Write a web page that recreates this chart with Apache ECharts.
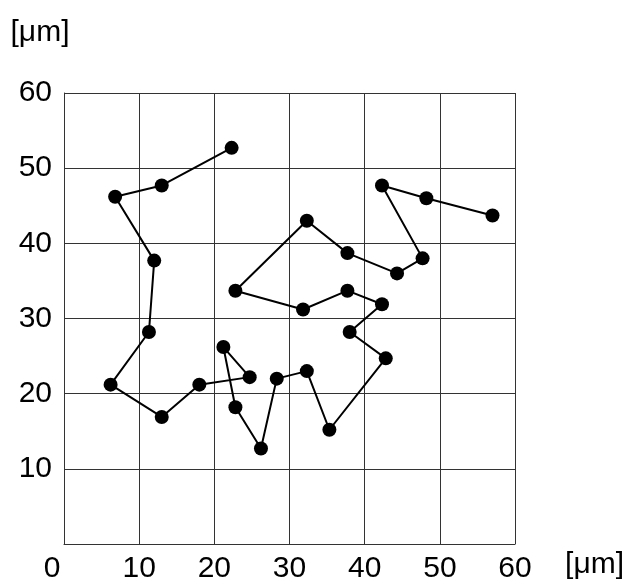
<!DOCTYPE html>
<html>
<head>
<meta charset="utf-8">
<script src="https://cdn.jsdelivr.net/npm/echarts@6/dist/echarts.min.js"></script>
<style>
  html, body { margin: 0; padding: 0; background: #fff; }
  #main { width: 627px; height: 584px; }
</style>
</head>
<body>
<div id="main"></div>
<script>
// path of the particle (x, y in µm)
const xs = [22.3, 13.0, 6.8, 12.0, 11.3, 6.2, 13.0, 18.0, 24.7, 21.2, 22.8, 26.2, 28.3, 32.3,
  35.3, 42.8, 38.0, 42.3, 37.7, 31.8, 22.8, 32.3, 37.7, 44.3, 47.7, 42.3, 48.2, 57.0];
const ys = [52.7, 47.7, 46.2, 37.7, 28.2, 21.2, 16.9, 21.2, 22.2, 26.2, 18.2, 12.7, 22.0, 23.0,
  15.2, 24.7, 28.2, 31.9, 33.7, 31.2, 33.7, 43.0, 38.7, 36.0, 38.0, 47.7, 46.0, 43.7];
const axisMin = 0;
const axisMax = 60;
const step = 10;
const unitName = "[μm]";

const points = xs.map((x, i) => [x, ys[i]]);
const font = "'Liberation Sans', Arial, sans-serif";
const fs = 30;

let chart = echarts.init(document.getElementById("main"));
let option = {
  backgroundColor: "#fff",
  animation: false,
  grid: { left: 64, right: 111, top: 93, bottom: 39 },
  xAxis: {
    type: "value",
    min: axisMin,
    max: axisMax,
    interval: step,
    name: unitName,
    nameLocation: "end",
    nameGap: 50,
    nameTextStyle: {
      fontFamily: font, fontSize: fs, color: "#000",
      verticalAlign: "top", padding: [6, 0, 0, 0],
    },
    axisLine: { show: true, lineStyle: { color: "#333", width: 1 } },
    axisTick: { show: false },
    splitLine: { show: true, lineStyle: { color: "#333", width: 1 } },
    axisLabel: {
      margin: 10,
      fontFamily: font, fontSize: fs, color: "#000",
      formatter: (v) => (v === 0 ? "{z|0}" : String(v)),
      rich: {
        z: { fontFamily: font, fontSize: fs, color: "#000", padding: [0, 24, 0, 0] },
      },
    },
  },
  yAxis: {
    type: "value",
    min: axisMin,
    max: axisMax,
    interval: step,
    name: unitName,
    nameLocation: "end",
    nameGap: 60,
    nameTextStyle: {
      fontFamily: font, fontSize: fs, color: "#000",
      align: "center", verticalAlign: "middle", padding: [0, 48, 0, 0],
    },
    axisLine: { show: true, lineStyle: { color: "#333", width: 1 } },
    axisTick: { show: false },
    splitLine: { show: true, lineStyle: { color: "#333", width: 1 } },
    axisLabel: {
      margin: 12,
      fontFamily: font, fontSize: fs, color: "#000",
      formatter: (v) => (v === 0 ? "" : String(v)),
    },
  },
  series: [
    {
      type: "line",
      data: points,
      symbol: "circle",
      symbolSize: 14,
      showAllSymbol: true,
      lineStyle: { color: "#000", width: 2 },
      itemStyle: { color: "#000" },
    },
  ],
};
chart.setOption(option);
</script>
</body>
</html>
